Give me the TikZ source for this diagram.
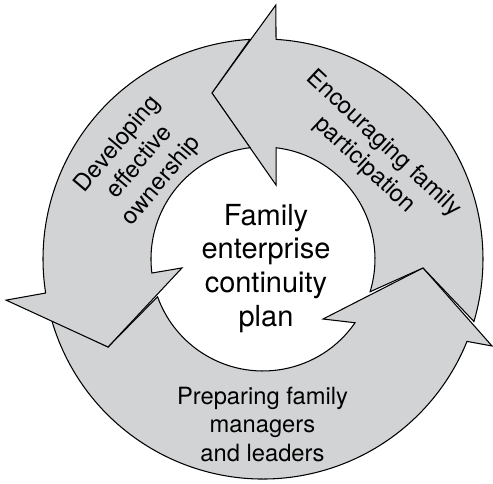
\documentclass[tikz,border=0pt]{standalone}
\usepackage{fontspec}
\setmainfont{TeX Gyre Heros}
\definecolor{arrowgray}{RGB}{209,211,212}
\tikzset{
  loop arrow/.style={fill=arrowgray, draw=black, line width=0.6pt, line join=miter},
  phase label/.style={font=\fontsize{13.5}{16.2}\selectfont, align=center, inner sep=0pt},
  core label/.style={font=\fontsize{16.5}{19.3}\selectfont, align=center, inner sep=0pt}
}
\begin{document}
\begin{tikzpicture}
  \useasboundingbox (-5.26,-4.5) rectangle (4.6,5.18);

  \coordinate (tipP) at (356.8:3.206);
  \coordinate (tipE) at (107.1:3.474);
  \coordinate (tipD) at (209.6:3.564);

  % bottom arrow
  \draw[loop arrow] (196.1:4.4) arc[start angle=196.1, end angle=338, radius=4.4]
     -- (339.2:4.9) -- (tipP) -- (315:1.698) -- (325.3:2.24)
     arc[start angle=325.3, end angle=199.7, radius=2.24] -- (tipD) -- cycle;

  % right arrow
  \draw[loop arrow] (-16.5:4.4) arc[start angle=-16.5, end angle=86.6, radius=4.4]
     -- (87.1:5.086) -- (tipE) -- (80:1.502) -- (83.3:2.24)
     arc[start angle=83.3, end angle=-17, radius=2.24] -- (tipP) -- cycle;

  % left arrow
  \draw[loop arrow] (93.4:4.4) arc[start angle=93.4, end angle=188.9, radius=4.4]
     -- (189.1:5.204) -- (tipD) -- (186.3:1.63) -- (187.2:2.24)
     arc[start angle=187.2, end angle=96.6, radius=2.24] -- (tipE) -- cycle;

  \node[core label] (plan) at (0.06,-0.19) {Family\\enterprise\\continuity\\plan};
  \node[phase label, rotate=50] (owner) at (-2.46,1.93) {Developing\\effective\\ownership};
  \node[phase label, rotate=-43] (join) at (2.22,2.09) {Encouraging family\\participation};
  \node[phase label] (lead) at (-0.01,-3.31) {Preparing family\\managers\\and leaders};
\end{tikzpicture}
\end{document}
